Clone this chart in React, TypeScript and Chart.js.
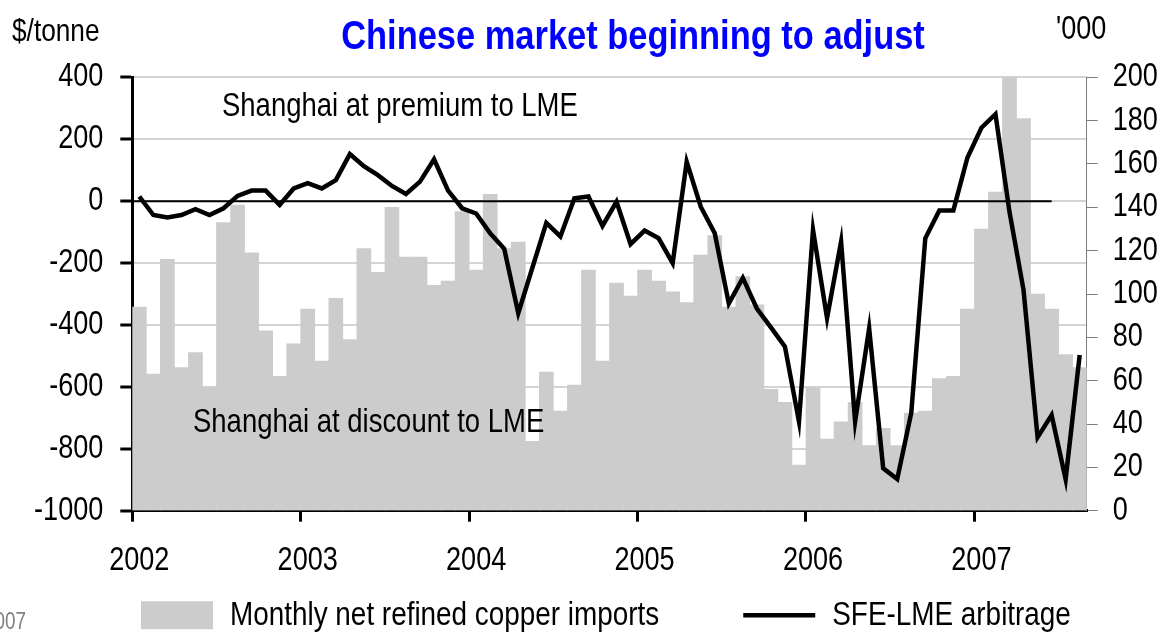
import React, { useEffect, useRef } from 'react';
import { Chart, registerables } from 'chart.js';

Chart.register(...registerables);

// Arial-metric family, drawn horizontally condensed to imitate Arial Narrow
const FONT = "'Liberation Sans', Arimo, Arial, sans-serif";
const NARROW = 0.82;

const titleText = 'Chinese market beginning to adjust';
const leftUnit = '$/tonne';
const rightUnit = "'000";
const premiumNote = 'Shanghai at premium to LME';
const discountNote = 'Shanghai at discount to LME';
const sourceFragment = '007';

const yearLabels = ['2002', '2003', '2004', '2005', '2006', '2007'];
const MONTHS_PER_YEAR = 12;

// Monthly net refined copper imports ('000 tonnes), Jan 2002 .. Aug 2007
const imports = [
  94, 63, 116, 66, 73, 57, 133, 141, 119, 83, 62, 77,
  93, 69, 98, 79, 121, 110, 140, 117, 117, 104, 106, 138,
  111, 146, 121, 124, 32, 64, 46, 58, 111, 69, 105, 99,
  111, 106, 101, 96, 118, 127, 94, 108, 95, 56, 50, 21,
  57, 33, 41, 50, 30, 38, 30, 45, 46, 61, 62, 93,
  130, 147, 200, 181, 100, 93, 72, 66,
];

// SFE-LME arbitrage ($/tonne), Jan 2002 .. Aug 2007
const arbitrage = [
  15, -45, -53, -45, -26, -45, -23, 17, 34, 34, -12, 41,
  58, 41, 68, 152, 113, 84, 49, 23, 63, 135, 34, -23,
  -40, -104, -154, -362, -216, -70, -114, 9, 15, -80, -2, -139,
  -95, -120, -200, 127, -18, -104, -331, -248, -347, -408, -470, -712,
  -93, -378, -131, -712, -411, -863, -898, -684, -120, -30, -30, 140,
  237, 281, -35, -287, -763, -691, -898, -497,
];

// zero reference line: from the start of the axis to mid-June 2007
const zeroLineValue = [0, 0];
const zeroLineSpan = [0, 65.5];

const legendBarLabel = 'Monthly net refined copper imports';
const legendLineLabel = 'SFE-LME arbitrage';

const LEGEND_PAD = 84;
const LEGEND_FONT = 34;

function condense(ctx: any) {
  if (ctx.__condensed) return;
  ctx.__condensed = true;
  const origFill = ctx.fillText.bind(ctx);
  const origMeasure = ctx.measureText.bind(ctx);
  ctx.fillText = (text: string, x: number, y: number, maxWidth?: number) => {
    ctx.save();
    ctx.translate(x, y);
    ctx.scale(NARROW, 1);
    if (maxWidth !== undefined && maxWidth !== null) origFill(text, 0, 0, maxWidth / NARROW);
    else origFill(text, 0, 0);
    ctx.restore();
  };
  ctx.measureText = (text: string) => {
    const m = origMeasure(text);
    return {
      width: m.width * NARROW,
      actualBoundingBoxLeft: m.actualBoundingBoxLeft * NARROW,
      actualBoundingBoxRight: m.actualBoundingBoxRight * NARROW,
      actualBoundingBoxAscent: m.actualBoundingBoxAscent,
      actualBoundingBoxDescent: m.actualBoundingBoxDescent,
      fontBoundingBoxAscent: m.fontBoundingBoxAscent,
      fontBoundingBoxDescent: m.fontBoundingBoxDescent,
    };
  };
}

const textPlugin = {
  id: 'chartTexts',
  afterLayout(chart: any) {
    const lg = chart.legend;
    if (lg) {
      lg.left = 141 - LEGEND_PAD;
      lg.right = 1400;
      lg.top = 598.2 - LEGEND_PAD;
      lg.bottom = 640;
    }
  },
  afterDatasetsDraw(chart: any) {
    const ctx = chart.ctx;
    ctx.save();
    ctx.textBaseline = 'alphabetic';
    ctx.textAlign = 'left';
    ctx.fillStyle = '#000';
    ctx.font = `33.5px ${FONT}`;
    ctx.fillText(premiumNote, 222, 115.5);
    ctx.fillText(discountNote, 193, 432);
    ctx.restore();
  },
  afterDraw(chart: any) {
    const ctx = chart.ctx;
    ctx.save();
    ctx.textBaseline = 'alphabetic';
    ctx.fillStyle = '#0000ff';
    ctx.font = `bold 40px ${FONT}`;
    ctx.textAlign = 'center';
    ctx.save();
    ctx.translate(633, 48.5);
    ctx.scale(1.05, 1);
    ctx.fillText(titleText, 0, 0);
    ctx.restore();
    ctx.fillStyle = '#000';
    ctx.font = `32px ${FONT}`;
    ctx.textAlign = 'left';
    ctx.fillText(leftUnit, 12, 40.5);
    ctx.font = `33px ${FONT}`;
    ctx.fillText(rightUnit, 1056, 38.5);
    ctx.fillStyle = '#808080';
    ctx.font = `23px ${FONT}`;
    ctx.textAlign = 'right';
    ctx.fillText(sourceFragment, 26, 628.5);
    ctx.restore();
  },
};

export default function App() {
  const canvasRef = useRef<HTMLCanvasElement | null>(null);

  useEffect(() => {
    document.body.style.margin = '0';
    const canvas = canvasRef.current;
    if (!canvas) return;
    condense(canvas.getContext('2d'));

    const tickFont = { family: FONT, size: 33 };

    const chart = new Chart(canvas, {
      type: 'bar',
      data: {
        datasets: [
          {
            type: 'line',
            label: legendLineLabel,
            data: arbitrage.map((v, i) => ({ x: i + 0.5, y: v })),
            xAxisID: 'x',
            yAxisID: 'y',
            borderColor: '#000000',
            backgroundColor: '#000000',
            borderWidth: 4.5,
            pointRadius: 0,
            pointStyle: 'line',
            tension: 0,
            fill: false,
            order: 0,
          } as any,
          {
            type: 'line',
            label: 'zero',
            data: zeroLineSpan.map((x, i) => ({ x, y: zeroLineValue[i] })),
            xAxisID: 'x',
            yAxisID: 'y',
            borderColor: '#000000',
            borderWidth: 2,
            pointRadius: 0,
            fill: false,
            order: 1,
          } as any,
          {
            type: 'bar',
            label: legendBarLabel,
            data: imports.map((v, i) => ({ x: i + 0.5, y: v })),
            xAxisID: 'x',
            yAxisID: 'y1',
            backgroundColor: '#cccccc',
            borderWidth: 0,
            barPercentage: 1,
            categoryPercentage: 1,
            pointStyle: 'rect',
            order: 2,
          } as any,
        ],
      },
      options: {
        responsive: false,
        animation: false,
        events: [],
        layout: { padding: { top: 77.3, left: 0, right: 0, bottom: 0 } },
        plugins: {
          title: { display: false },
          tooltip: { enabled: false },
          legend: {
            display: true,
            position: 'bottom',
            align: 'start',
            reverse: true,
            maxHeight: 1,
            labels: {
              font: { family: FONT, size: LEGEND_FONT },
              color: '#000',
              usePointStyle: true,
              pointStyleWidth: 72,
              boxHeight: 28,
              padding: LEGEND_PAD,
              filter: (item: any) => item.datasetIndex !== 1,
              generateLabels: (c: any) =>
                (Chart.defaults.plugins.legend.labels.generateLabels as any)(c).map((it: any) => ({
                  ...it,
                  pointStyle: it.datasetIndex === 2 ? 'rect' : 'line',
                })),
            },
          },
        },
        scales: {
          x: {
            type: 'linear',
            position: 'bottom',
            min: 0,
            max: imports.length,
            offset: false,
            afterBuildTicks: (s: any) => {
              s.ticks = yearLabels.map((_, i) => ({ value: i * MONTHS_PER_YEAR }));
            },
            ticks: {
              autoSkip: false,
              maxRotation: 0,
              font: tickFont,
              color: '#000',
              padding: 19,
              labelOffset: 7,
              callback: (v: any) => yearLabels[Math.round(Number(v) / MONTHS_PER_YEAR)] ?? '',
            },
            grid: {
              offset: false,
              drawOnChartArea: false,
              color: '#000',
              lineWidth: 3,
              tickLength: 11,
            },
            border: { color: '#000', width: 3 },
            afterFit: (s: any) => {
              s.height = 633 - 510.7 - 1;
            },
          },
          y: {
            type: 'linear',
            position: 'left',
            min: -1000,
            max: 400,
            ticks: {
              stepSize: 200,
              font: tickFont,
              color: '#000',
              padding: 17,
              callback: (v: any) => String(v),
            },
            grid: {
              color: '#d4d4d4',
              lineWidth: 2,
              tickColor: '#000',
              tickWidth: 3,
              tickLength: 12,
            },
            border: { color: '#000', width: 3 },
            afterFit: (s: any) => {
              s.width = 132.3;
            },
          },
          y1: {
            type: 'linear',
            position: 'right',
            min: 0,
            max: 200,
            ticks: {
              stepSize: 20,
              font: tickFont,
              color: '#000',
              padding: 15,
              callback: (v: any) => String(v),
            },
            grid: {
              drawOnChartArea: false,
              color: '#7f7f7f',
              lineWidth: 1,
              tickLength: 11,
            },
            border: { color: '#7f7f7f', width: 1 },
            afterFit: (s: any) => {
              s.width = 1163 - 1086.7;
            },
          },
        },
      } as any,
      plugins: [textPlugin],
    });

    return () => {
      chart.destroy();
    };
  }, []);

  return (
    <div style={{ position: 'fixed', left: 0, top: 0, width: 1163, height: 633, background: '#fff' }}>
      <canvas ref={canvasRef} width={1163} height={633} style={{ display: 'block' }} />
    </div>
  );
}
